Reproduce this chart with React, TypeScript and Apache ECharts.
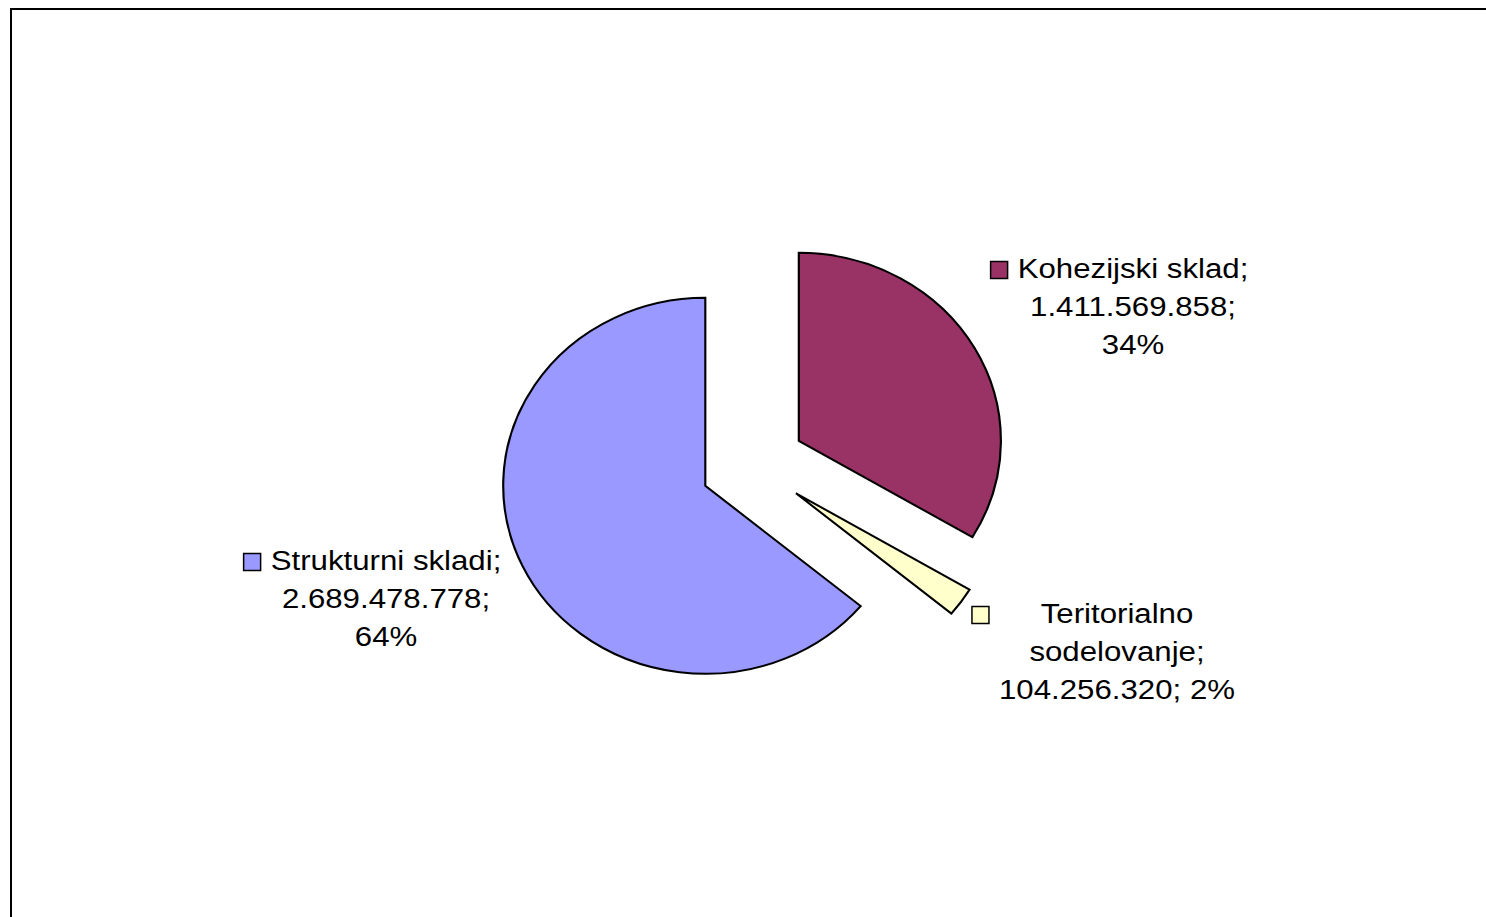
import React, { useEffect, useRef } from "react";
import * as echarts from "echarts";

// ---- data ----
const categories = ["Kohezijski sklad", "Teritorialno sodelovanje", "Strukturni skladi"];
const values = [1411569858, 104256320, 2689478778];
const colors = ["#993366", "#FFFFCC", "#9999FF"];

// ---- layout ----
const W = 1486;
const H = 917;
const CX = 753;
const CY = 465;
const R = 188;
const SCALE_X = 1.0745;
const EXPLODE = 49;
const FONT_FAMILY = "'Liberation Sans', Arial, sans-serif";
const FONT_SIZE = 28;
const TEXT_SCALE_X = 1.115;
const LINE_H = 38;
// centre of each label block (x centre, y of middle line)
const labelCenters = [
  [1133, 306],
  [1117, 651],
  [386, 598],
];
// how each label wraps: name split onto two lines / percent on the value line
const labelNameWrap = [false, true, false];
const labelPctInline = [false, true, false];

const fmt = (v: number) => String(v).replace(/\B(?=(\d{3})+(?!\d))/g, ".");

function labelLines(i: number, total: number): string[] {
  const name = labelNameWrap[i] ? categories[i].split(" ").join("\n") : categories[i];
  const pct = Math.round((values[i] / total) * 100) + "%";
  const nameLines = (name + ";").split("\n");
  if (labelPctInline[i]) return [...nameLines, fmt(values[i]) + "; " + pct];
  return [...nameLines, fmt(values[i]) + ";", pct];
}

let measureCtx: CanvasRenderingContext2D | null = null;
function textWidth(s: string): number {
  if (!measureCtx) measureCtx = document.createElement("canvas").getContext("2d");
  if (!measureCtx) return s.length * FONT_SIZE * 0.55;
  measureCtx.font = `${FONT_SIZE}px "Liberation Sans", Arial, sans-serif`;
  return measureCtx.measureText(s).width;
}

export default function App() {
  const ref = useRef<HTMLDivElement>(null);
  useEffect(() => {
    if (!ref.current) return;
    const chart = echarts.init(ref.current, undefined, { renderer: "svg" });
    const total = values.reduce((a, b) => a + b, 0);

    const option: any = {
      animation: false,
      backgroundColor: "#ffffff",
      graphic: [
        {
          type: "rect",
          silent: true,
          shape: { x: 11, y: 9, width: 1500, height: 940 },
          style: { fill: "none", stroke: "#000000", lineWidth: 2 },
        },
      ],
      series: [
        {
          type: "custom",
          coordinateSystem: "none",
          silent: true,
          data: values.map((v, i) => ({ name: categories[i], value: v })),
          renderItem: (params: any, api: any) => {
            const i = params.dataIndex;
            const v = api.value(0);
            let before = 0;
            for (let k = 0; k < i; k++) before += values[k];
            const a0 = (before / total) * Math.PI * 2 - Math.PI / 2;
            const a1 = ((before + v) / total) * Math.PI * 2 - Math.PI / 2;
            const mid = (a0 + a1) / 2;
            const ox = Math.cos(mid) * EXPLODE;
            const oy = Math.sin(mid) * EXPLODE;

            const lines = labelLines(i, total);
            const [lx, ly] = labelCenters[i];
            const n = lines.length;
            const firstY = ly - ((n - 1) / 2) * LINE_H;
            const maxW = Math.max(...lines.map(textWidth)) * TEXT_SCALE_X;
            const sq = 17;

            return {
              type: "group",
              children: [
                {
                  type: "sector",
                  x: CX,
                  y: CY,
                  scaleX: SCALE_X,
                  scaleY: 1,
                  shape: { cx: ox, cy: oy, r: R, r0: 0, startAngle: a0, endAngle: a1, clockwise: true },
                  style: { fill: colors[i], stroke: "#000000", lineWidth: 2, lineJoin: "miter" },
                },
                {
                  type: "text",
                  x: lx,
                  y: ly,
                  scaleX: TEXT_SCALE_X,
                  scaleY: 1,
                  style: {
                    text: lines.join("\n"),
                    fill: "#000000",
                    fontSize: FONT_SIZE,
                    fontFamily: FONT_FAMILY,
                    align: "center",
                    verticalAlign: "middle",
                    lineHeight: LINE_H,
                  },
                },
                {
                  type: "rect",
                  shape: { x: lx - maxW / 2 - 10 - sq, y: firstY - sq / 2 + 2, width: sq, height: sq },
                  style: { fill: colors[i], stroke: "#000000", lineWidth: 1.5 },
                },
              ],
            };
          },
        },
      ],
    };
    chart.setOption(option);
    return () => chart.dispose();
  }, []);
  return (
    <div
      ref={ref}
      style={{ position: "absolute", left: 0, top: 0, width: W, height: H, background: "#fff" }}
    />
  );
}
